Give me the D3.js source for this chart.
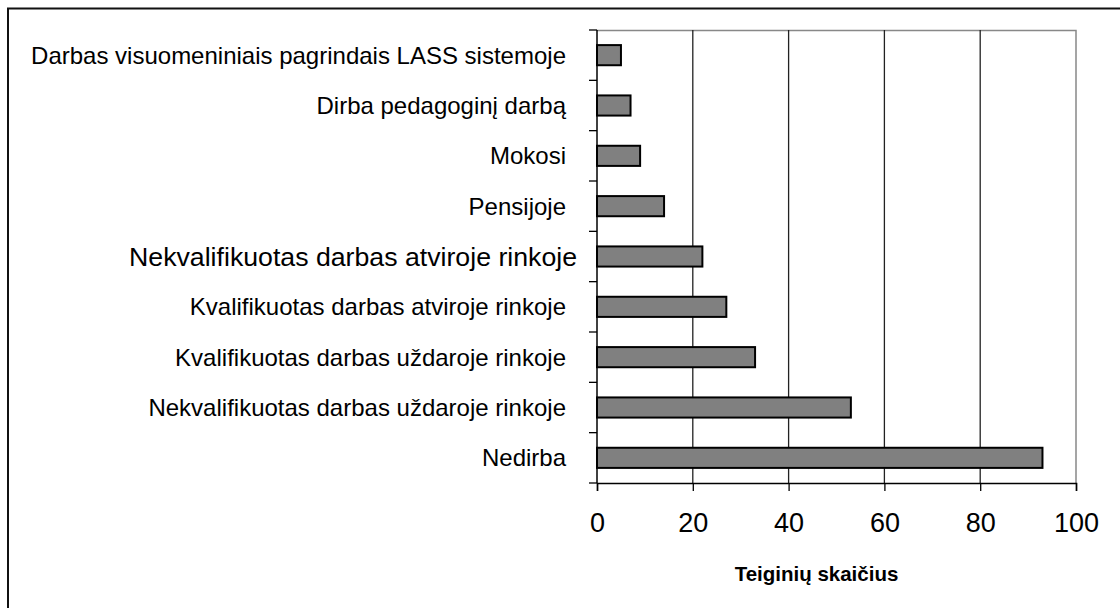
<!DOCTYPE html>
<html>
<head>
<meta charset="utf-8">
<script src="https://cdn.jsdelivr.net/npm/d3@7"></script>
<style>
  html, body { margin: 0; padding: 0; background: #fff; }
  svg { display: block; font-family: "Liberation Sans", Arial, sans-serif; }
</style>
</head>
<body>
<div id="chart"></div>
<script>
// categories top to bottom, as in the picture
const categories = [
  "Darbas visuomeniniais pagrindais LASS sistemoje",
  "Dirba pedagoginį darbą",
  "Mokosi",
  "Pensijoje",
  "Nekvalifikuotas darbas atviroje rinkoje",
  "Kvalifikuotas darbas atviroje rinkoje",
  "Kvalifikuotas darbas uždaroje rinkoje",
  "Nekvalifikuotas darbas uždaroje rinkoje",
  "Nedirba"
];
const counts = [5, 7, 9, 14, 22, 27, 33, 53, 93];
const xTicks = [0, 20, 40, 60, 80, 100];
const xTitle = "Teiginių skaičius";

const W = 1120, H = 608;
const margin = {top: 30, right: 44, bottom: 125, left: 597};
const width = W - margin.left - margin.right;
const height = H - margin.top - margin.bottom;

const svg = d3.select("#chart")
  .append("svg")
    .attr("width", W)
    .attr("height", H);

// outer frame (only left and top edges show in the picture)
svg.append("rect")
  .attr("x", 8).attr("y", 8.5)
  .attr("width", W + 20).attr("height", H + 20)
  .attr("fill", "none")
  .attr("stroke", "#111")
  .attr("stroke-width", 2);

const g = svg.append("g")
  .attr("transform", "translate(" + margin.left + "," + margin.top + ")");

const x = d3.scaleLinear()
  .domain([0, 100])
  .range([0, width]);

const y = d3.scaleBand()
  .domain(categories)
  .range([0, height])
  .paddingInner(0.6)
  .paddingOuter(0.3);

// plot area border, grey on top and right
g.append("path")
  .attr("d", "M0,0.5H" + x(100) + "V" + height)
  .attr("fill", "none")
  .attr("stroke", "#888")
  .attr("stroke-width", 1.5);

// vertical gridlines
g.selectAll(".grid")
  .data(xTicks.filter(d => d > 0 && d < 100))
  .enter()
  .append("line")
    .attr("class", "grid")
    .attr("x1", d => x(d)).attr("x2", d => x(d))
    .attr("y1", 0).attr("y2", height)
    .attr("stroke", "#222")
    .attr("stroke-width", 1.3);

// bars
g.selectAll(".bar")
  .data(categories)
  .enter()
  .append("rect")
    .attr("class", "bar")
    .attr("x", x(0))
    .attr("y", d => y(d))
    .attr("width", (d, i) => x(counts[i]) - x(0))
    .attr("height", y.bandwidth())
    .attr("fill", "#808080")
    .attr("stroke", "#000")
    .attr("stroke-width", 2);

// x axis
const xAxis = g.append("g")
  .attr("transform", "translate(0," + height + ")")
  .call(d3.axisBottom(x).tickValues(xTicks).tickSize(8).tickPadding(22));
xAxis.select(".domain").attr("stroke", "#000").attr("stroke-width", 1.5);
xAxis.selectAll(".tick line").attr("stroke", "#000").attr("stroke-width", 1.3);
xAxis.selectAll("text")
  .attr("font-family", "Liberation Sans, Arial, sans-serif")
  .style("font-size", "27px")
  .attr("fill", "#000");

// y axis: ticks sit between categories, so draw them from band edges
const yEdges = categories.map(d => y(d) - y.step() * y.paddingInner() / 2);
yEdges.push(height);
g.append("line")
  .attr("x1", 0).attr("x2", 0)
  .attr("y1", 0).attr("y2", height)
  .attr("stroke", "#000").attr("stroke-width", 1.5);
g.selectAll(".ytick")
  .data([0].concat(yEdges.slice(1)))
  .enter()
  .append("line")
    .attr("class", "ytick")
    .attr("x1", -8).attr("x2", 0)
    .attr("y1", d => d).attr("y2", d => d)
    .attr("stroke", "#000").attr("stroke-width", 1.3);

// category labels (the 5th one is set larger in the original)
g.selectAll(".ylab")
  .data(categories)
  .enter()
  .append("text")
    .attr("class", "ylab")
    .attr("x", (d, i) => i === 4 ? -20 : -31)
    .attr("y", d => y(d) + y.bandwidth() / 2)
    .attr("dy", "0.35em")
    .attr("text-anchor", "end")
    .style("font-size", (d, i) => i === 4 ? "26.7px" : "24px")
    .attr("fill", "#000")
    .text(d => d);

// axis title
g.append("text")
  .attr("x", x(50) - 20)
  .attr("y", height + 98)
  .attr("text-anchor", "middle")
  .style("font-size", "20.5px")
  .style("font-weight", "bold")
  .attr("fill", "#000")
  .text(xTitle);
</script>
</body>
</html>
